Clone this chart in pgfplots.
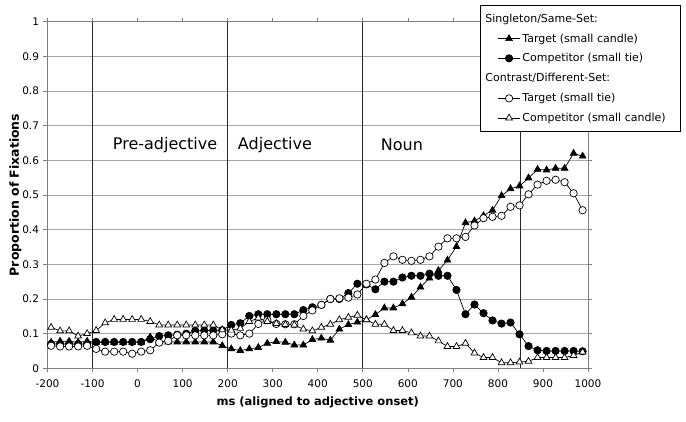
\documentclass[border=0pt]{standalone}
\usepackage{pgfplots}
\pgfplotsset{compat=1.18}
\usepackage{pgfplotstable}
\usepackage{fontspec}
\setmainfont{DejaVu Sans}

\pgfplotstableread{
x st sc ct cc
-192 .075 .070 .065 .118
-172 .078 .070 .063 .108
-152 .078 .070 .063 .108
-132 .075 .070 .063 .093
-112 .078 .070 .065 .100
-92 .075 .076 .056 .109
-72 .075 .076 .048 .131
-52 .075 .076 .048 .141
-32 .075 .076 .048 .141
-12 .075 .076 .042 .141
8 .075 .076 .048 .141
28 .090 .084 .052 .135
48 .076 .093 .074 .125
68 .076 .095 .079 .125
88 .076 .097 .095 .125
108 .076 .100 .095 .125
128 .076 .108 .095 .125
148 .076 .109 .095 .125
168 .076 .109 .095 .125
188 .065 .110 .098 .111
208 .056 .125 .100 .110
228 .051 .130 .095 .115
248 .056 .151 .100 .135
268 .060 .156 .128 .145
288 .072 .156 .139 .135
308 .077 .156 .128 .129
328 .075 .156 .127 .126
348 .067 .156 .127 .125
368 .067 .168 .151 .113
388 .083 .176 .167 .108
408 .087 .183 .183 .118
428 .081 .200 .200 .127
448 .113 .200 .202 .140
468 .126 .217 .204 .147
488 .133 .244 .213 .153
508 .140 .242 .244 .140
528 .155 .228 .256 .127
548 .174 .250 .304 .127
568 .174 .250 .323 .109
588 .186 .262 .313 .109
608 .205 .267 .310 .102
628 .234 .267 .313 .093
648 .260 .273 .323 .093
668 .282 .267 .351 .079
688 .312 .267 .375 .063
708 .351 .226 .375 .063
728 .420 .156 .379 .072
748 .425 .184 .412 .044
768 .440 .159 .433 .031
788 .456 .138 .437 .031
808 .498 .129 .440 .016
828 .518 .132 .466 .016
848 .526 .098 .470 .018
868 .549 .064 .502 .020
888 .574 .052 .530 .031
908 .572 .050 .541 .031
928 .577 .050 .544 .031
948 .577 .050 .537 .031
968 .620 .050 .505 .037
988 .612 .049 .456 .047
}\datatable

\pgfplotsset{
  myentry/.style={legend image code/.code={
    \path[draw=none, fill=none] (-13pt,0pt) -- (22pt,0pt);
    \draw[##1] (0pt,0pt) -- (22pt,0pt);
    \draw[##1] plot coordinates {(11pt,0pt)};}},
  myheader/.style={legend image code/.code={
    \path[draw=none, fill=none] (-13pt,0pt) -- (22pt,0pt);
    \node[overlay, anchor=west, inner sep=0pt, text=black] at (-13pt,0pt) {#1};}},
}

\begin{document}
\begin{tikzpicture}
\begin{axis}[
  scale only axis,
  width=540.5pt, height=346.6pt,
  xmin=-200, xmax=1000, ymin=0, ymax=1,
  xtick={-200,-100,...,1000},
  ytick={0,0.1,...,1.0},
  yticklabels={0,0.1,0.2,0.3,0.4,0.5,0.6,0.7,0.8,0.9,1},
  /pgf/number format/assume math mode=true,
  /pgf/number format/set thousands separator={},
  ticklabel style={font=\fontsize{10.5}{12}\selectfont},
  xticklabel style={yshift=-4pt},
  yticklabel style={xshift=-1pt},
  tick align=outside,
  major tick length=4pt,
  tick style={gray, line width=0.6pt},
  axis line style={gray, line width=0.7pt},
  ymajorgrids,
  grid style={gray!70, line width=0.6pt},
  xlabel={\textbf{ms (aligned to adjective onset)}},
  ylabel={\textbf{Proportion of Fixations}},
  xlabel style={font=\fontsize{11.5}{13}\selectfont, yshift=-2pt},
  ylabel style={font=\fontsize{12.5}{14}\selectfont, yshift=-6pt},
  clip=false,
  legend style={at={(1.172,1.048)}, anchor=north east, draw=black, line width=0.6pt, fill=white,
    font=\fontsize{11}{13}\selectfont, row sep=5.8pt, inner xsep=5pt, inner ysep=6pt},
  legend cell align=left,
  every axis plot/.append style={black, line width=0.7pt},
]
% phase boundaries
\addplot[forget plot, black!85, line width=0.7pt] coordinates {(-100,0) (-100,1)};
\addplot[forget plot, black!85, line width=0.7pt] coordinates {(200,0) (200,1)};
\addplot[forget plot, black!85, line width=0.7pt] coordinates {(500,0) (500,1)};
\addplot[forget plot, black!85, line width=0.7pt] coordinates {(850,0) (850,1)};

\node[font=\fontsize{16}{18}\selectfont] at (axis cs:61,0.645) {Pre-adjective};
\node[font=\fontsize{16}{18}\selectfont] at (axis cs:305,0.645) {Adjective};
\node[font=\fontsize{16}{18}\selectfont] at (axis cs:587,0.645) {Noun};

\addlegendimage{myheader={Singleton/Same-Set:}}
\addlegendentry{\strut}

\addplot[myentry, mark=triangle*, mark size=3.9pt, mark options={fill=black, solid}] table[x=x, y=st] {\datatable};
\addlegendentry{Target (small candle)}
\addplot[myentry, mark=*, mark size=3.7pt, mark options={fill=black, solid}] table[x=x, y=sc] {\datatable};
\addlegendentry{Competitor (small tie)}

\addlegendimage{myheader={Contrast/Different-Set:}}
\addlegendentry{\strut}

\addplot[myentry, mark=*, mark size=3.7pt, mark options={fill=white, solid}] table[x=x, y=ct] {\datatable};
\addlegendentry{Target (small tie)}
\addplot[myentry, mark=triangle*, mark size=3.9pt, mark options={fill=white, solid}] table[x=x, y=cc] {\datatable};
\addlegendentry{Competitor (small candle)\hspace*{8pt}}
\end{axis}
\pgfresetboundingbox
\path (-47.5pt,-53.7pt) rectangle (638.5pt,368.3pt);
\end{tikzpicture}
\end{document}
